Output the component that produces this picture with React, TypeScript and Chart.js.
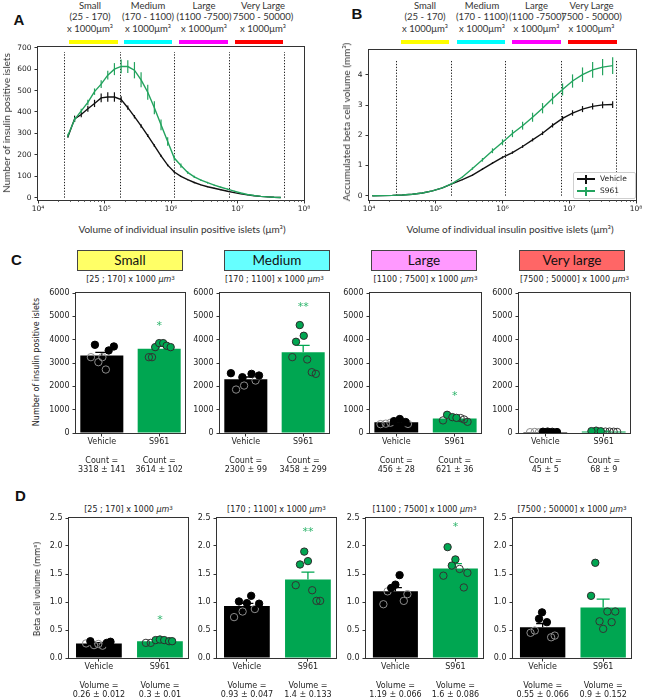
import React, { useEffect, useRef } from 'react';
import { Chart, registerables } from 'chart.js';

Chart.register(...registerables);

// ---------------- data ----------------
// Panel A: number of islets per volume bin
const volA = [2.82e4, 3.55e4, 4.47e4, 5.62e4, 7.08e4, 8.91e4, 1.12e5, 1.41e5, 1.78e5, 2.24e5, 2.82e5, 3.55e5, 4.47e5, 5.62e5, 7.08e5, 8.91e5, 1.12e6, 1.41e6, 1.78e6, 2.24e6, 2.82e6, 3.55e6, 4.47e6, 5.62e6, 7.08e6, 8.91e6, 1.12e7, 1.41e7, 1.78e7, 2.24e7, 2.82e7, 3.55e7, 4.47e7];
const vehicleA = [285, 368, 388, 415, 440, 466, 470, 470, 458, 420, 378, 335, 290, 243, 195, 152, 120, 100, 84, 71, 60, 51, 44, 37, 30, 24, 18, 13, 9, 6, 4, 2, 1];
const vehicleAErr = [5, 15, 12, 14, 17, 20, 22, 22, 15, 10, 8, 8, 7, 6, 5, 5, 4, 3, 3, 3, 2, 2, 2, 2, 2, 1, 1, 1, 1, 1, 1, 0, 0];
const s961A = [290, 365, 405, 445, 495, 530, 572, 600, 613, 612, 595, 550, 492, 420, 340, 262, 185, 150, 118, 97, 82, 70, 59, 49, 40, 31, 22, 15, 10, 6, 4, 2, 1];
const s961AErr = [8, 10, 10, 12, 15, 18, 20, 28, 32, 30, 38, 35, 35, 30, 25, 20, 12, 10, 6, 5, 4, 4, 3, 3, 3, 2, 2, 2, 1, 1, 1, 1, 0];

// Panel B: accumulated beta cell volume
const volB = [1.12e4, 1.58e4, 2.24e4, 3.16e4, 4.47e4, 6.31e4, 8.91e4, 1.26e5, 1.78e5, 2.51e5, 3.55e5, 5.01e5, 7.08e5, 1.0e6, 1.41e6, 2.0e6, 2.82e6, 3.98e6, 5.62e6, 7.94e6, 1.12e7, 1.58e7, 2.24e7, 3.16e7, 4.47e7];
const vehicleB = [0, 0.004, 0.01, 0.025, 0.05, 0.09, 0.16, 0.26, 0.40, 0.53, 0.68, 0.88, 1.08, 1.27, 1.43, 1.63, 1.85, 2.07, 2.33, 2.56, 2.74, 2.87, 2.96, 3.01, 3.02];
const vehicleBErr = [0, 0, 0, 0, 0, 0, 0.003, 0.005, 0.01, 0.015, 0.02, 0.025, 0.03, 0.035, 0.04, 0.045, 0.05, 0.06, 0.07, 0.08, 0.09, 0.1, 0.1, 0.11, 0.11];
const s961B = [0, 0.004, 0.01, 0.025, 0.05, 0.09, 0.16, 0.26, 0.41, 0.62, 0.90, 1.19, 1.49, 1.77, 2.06, 2.32, 2.60, 2.90, 3.22, 3.52, 3.80, 4.01, 4.17, 4.26, 4.31];
const s961BErr = [0, 0, 0, 0, 0, 0, 0.003, 0.005, 0.01, 0.02, 0.04, 0.06, 0.08, 0.10, 0.12, 0.13, 0.15, 0.17, 0.19, 0.20, 0.22, 0.24, 0.26, 0.27, 0.28];

const thresholds = [25000, 170000, 1100000, 7500000, 50000000];
const logTickValues = [1e4, 1e5, 1e6, 1e7, 1e8];
const logTickLabels = ['10⁴', '10⁵', '10⁶', '10⁷', '10⁸'];
const yTicksA = [0, 100, 200, 300, 400, 500, 600, 700];
const yTicksB = [0, 1, 2, 3, 4];
const seriesNames = ['Vehicle', 'S961'];

const headerNames = ['Small', 'Medium', 'Large', 'Very Large'];
const headerRanges = ['(25 - 170)', '(170 - 1100)', '(1100 -7500)', '7500 - 50000)'];
const headerUnit = 'x 1000μm³';
const headerColors = ['#ffff00', '#00ffff', '#ff00ff', '#ff0000'];

// Panels C / D
const classNames = ['Small', 'Medium', 'Large', 'Very large'];
const classColors = ['#ffff66', '#66ffff', '#ff99ff', '#ff6666'];
const rangeLabels = ['[25 ; 170]', '[170 ; 1100]', '[1100 ; 7500]', '[7500 ; 50000]'];
const groups = ['Vehicle', 'S961'];
const yTicksC = [0, 1000, 2000, 3000, 4000, 5000, 6000];
const yTicksD = [0, 0.5, 1.0, 1.5, 2.0, 2.5];

const countMeanVehicle = [3318, 2300, 456, 45];
const countSemVehicle = [141, 99, 28, 5];
const countMeanS961 = [3614, 3458, 621, 68];
const countSemS961 = [102, 299, 36, 9];

const countPtsVehicle = [
  [3780, 3537, 3709, 3250, 3250, 3036, 2720],
  [2563, 2391, 2535, 2463, 1862, 2033, 2248],
  [600, 470, 510, 380, 400, 440, 390],
  [55, 60, 50, 40, 35, 45, 30],
];
const countJitVehicle = [
  [-0.12, 0.12, 0.21, -0.19, 0.01, -0.06, 0.07],
  [-0.26, -0.06, 0.1, 0.23, -0.17, -0.03, 0.17],
  [0.06, 0.16, -0.04, -0.27, -0.18, -0.1, 0.2],
  [-0.04, 0.04, 0.12, 0.2, -0.26, -0.18, -0.11],
];
const countFilledVehicle = [
  [1, 1, 1, 0, 0, 0, 0],
  [1, 1, 1, 1, 0, 0, 0],
  [1, 1, 1, 0, 0, 0, 0],
  [1, 1, 1, 1, 0, 0, 0],
];
const countPtsS961 = [
  [3680, 3852, 3852, 3740, 3680, 3250, 3250],
  [4626, 4167, 3910, 3251, 3151, 2606, 2535],
  [780, 680, 650, 540, 640, 580, 480],
  [100, 80, 75, 60, 60, 55, 46],
];
const countJitS961 = [
  [-0.07, 0.0, 0.07, 0.13, 0.2, -0.18, -0.125],
  [-0.06, 0.01, -0.125, -0.19, 0.07, 0.15, 0.22],
  [-0.13, -0.04, 0.03, -0.2, 0.1, 0.16, 0.22],
  [-0.13, -0.21, -0.05, 0.03, 0.1, 0.17, 0.23],
];
const countFilledS961 = [
  [1, 1, 1, 1, 1, 0, 0],
  [1, 1, 1, 0, 0, 0, 0],
  [1, 1, 1, 0, 0, 0, 0],
  [1, 1, 1, 0, 0, 0, 0],
];
const countStars = ['*', '**', '*', ''];
const countStarY = [4600, 5400, 1560, 0];

const volMeanVehicle = [0.26, 0.93, 1.19, 0.55];
const volSemVehicle = [0.012, 0.047, 0.066, 0.066];
const volMeanS961 = [0.3, 1.4, 1.6, 0.9];
const volSemS961 = [0.01, 0.133, 0.086, 0.152];

const volPtsVehicle = [
  [0.30, 0.29, 0.27, 0.26, 0.23, 0.25, 0.22],
  [1.01, 1.11, 0.98, 0.97, 0.73, 0.83, 0.875],
  [1.48, 1.31, 1.25, 0.96, 1.19, 1.02, 1.14],
  [0.815, 0.70, 0.64, 0.45, 0.49, 0.37, 0.40],
];
const volJitVehicle = [
  [-0.14, 0.19, 0.13, -0.21, -0.08, -0.01, 0.06],
  [-0.13, 0.07, 0.0, 0.2, -0.21, -0.07, 0.13],
  [0.07, 0.0, -0.07, -0.2, -0.13, 0.14, 0.2],
  [-0.01, -0.06, 0.07, -0.2, -0.13, 0.14, 0.2],
];
const volFilledVehicle = [
  [1, 1, 1, 0, 0, 0, 0],
  [1, 1, 1, 1, 0, 0, 0],
  [1, 1, 1, 0, 0, 0, 0],
  [1, 1, 1, 0, 0, 0, 0],
];
const volPtsS961 = [
  [0.27, 0.27, 0.32, 0.33, 0.32, 0.30, 0.30],
  [1.90, 1.73, 1.67, 1.30, 1.21, 1.02, 1.02],
  [1.98, 1.76, 1.65, 1.47, 1.59, 1.52, 1.26],
  [1.70, 1.11, 0.655, 0.83, 0.83, 0.64, 0.52],
];
const volJitS961 = [
  [-0.23, -0.15, -0.07, 0.0, 0.07, 0.15, 0.2],
  [-0.06, 0.0, -0.13, -0.2, 0.07, 0.14, 0.2],
  [-0.13, 0.0, -0.06, -0.2, 0.07, 0.2, 0.14],
  [-0.13, -0.2, -0.06, 0.07, 0.2, 0.14, 0.0],
];
const volFilledS961 = [
  [0, 0, 1, 1, 1, 1, 1],
  [1, 1, 1, 0, 0, 0, 0],
  [1, 1, 1, 0, 0, 0, 0],
  [1, 1, 0, 0, 0, 0, 0],
];
const volStars = ['*', '**', '*', ''];
const volStarY = [0.68, 2.25, 2.33, 0];

// ---------------- style ----------------
const GREEN_LINE = '#23a35e';
const GREEN_BAR = '#00a651';
const GREEN_STAR = '#2fb56c';
const MPL_FONT = '"DejaVu Sans", Verdana, sans-serif';
const ANNOT_FONT = 'Lato, "Open Sans", sans-serif';
const BOLD_FONT = '"Liberation Sans", Arial, sans-serif';

const A_RECT = [38, 47, 304, 200];
const B_RECT = [369, 50, 636, 200];
const C_RECTS = [[76, 293, 185, 433], [220, 293, 329, 433], [370, 293, 481, 433], [519, 293, 630, 433]];
const D_RECTS = [[69, 518, 188, 658], [217, 518, 336, 658], [366, 518, 483, 658], [513, 518, 631, 658]];

// ---------------- plugins ----------------
const framePlugin = {
  id: 'frame',
  afterDraw(chart: any) {
    const { ctx, chartArea: a } = chart;
    ctx.save();
    ctx.strokeStyle = '#333';
    ctx.lineWidth = 1;
    ctx.strokeRect(a.left - 0.5, a.top - 0.5, a.right - a.left + 1, a.bottom - a.top + 1);
    ctx.restore();
  },
};

const lineErrorPlugin = {
  id: 'lineErr',
  afterDatasetDraw(chart: any, args: any) {
    const ds = chart.data.datasets[args.index];
    const errs = ds.errors;
    if (!errs) return;
    const { ctx } = chart;
    const xs = chart.scales.x, ys = chart.scales.y;
    ctx.save();
    ctx.strokeStyle = ds.borderColor;
    ctx.lineWidth = 1.2;
    ds.data.forEach((p: any, i: number) => {
      const e = errs[i];
      if (!e) return;
      const x = xs.getPixelForValue(p.x);
      ctx.beginPath();
      ctx.moveTo(x, ys.getPixelForValue(p.y - e));
      ctx.lineTo(x, ys.getPixelForValue(p.y + e));
      ctx.stroke();
    });
    ctx.restore();
  },
};

const thresholdPlugin = (top: number) => ({
  id: 'thresholds',
  beforeDatasetsDraw(chart: any) {
    const { ctx } = chart;
    const xs = chart.scales.x, ys = chart.scales.y;
    ctx.save();
    ctx.strokeStyle = '#222';
    ctx.lineWidth = 1;
    ctx.setLineDash([1.3, 1.6]);
    thresholds.forEach((t) => {
      const x = Math.round(xs.getPixelForValue(t)) + 0.5;
      ctx.beginPath();
      ctx.moveTo(x, ys.getPixelForValue(0));
      ctx.lineTo(x, ys.getPixelForValue(top));
      ctx.stroke();
    });
    ctx.restore();
  },
});

const minorTickPlugin = {
  id: 'minorTicks',
  afterDraw(chart: any) {
    const { ctx, chartArea: a } = chart;
    const xs = chart.scales.x;
    ctx.save();
    ctx.strokeStyle = '#444';
    ctx.lineWidth = 0.8;
    for (let d = 4; d < 8; d++) {
      for (let m = 2; m < 10; m++) {
        const x = Math.round(xs.getPixelForValue(m * Math.pow(10, d))) + 0.5;
        ctx.beginPath();
        ctx.moveTo(x, a.bottom);
        ctx.lineTo(x, a.bottom + 2);
        ctx.stroke();
      }
    }
    ctx.restore();
  },
};

const barErrorPlugin = (means: number[], sems: number[], colors: string[]) => ({
  id: 'barErr',
  afterDatasetDraw(chart: any, args: any) {
    if (args.index !== 0) return;
    const { ctx } = chart;
    const xs = chart.scales.x, ys = chart.scales.y;
    ctx.save();
    ctx.lineWidth = 1.3;
    means.forEach((m, k) => {
      const x = xs.getPixelForValue(k);
      const y0 = ys.getPixelForValue(m);
      const y1 = ys.getPixelForValue(m + sems[k]);
      ctx.strokeStyle = colors[k];
      ctx.beginPath();
      ctx.moveTo(x, y0);
      ctx.lineTo(x, y1);
      ctx.moveTo(x - 6.5, y1);
      ctx.lineTo(x + 6.5, y1);
      ctx.stroke();
    });
    ctx.restore();
  },
});

const starPlugin = (text: string, yVal: number) => ({
  id: 'star',
  afterDraw(chart: any) {
    if (!text) return;
    const { ctx } = chart;
    const x = chart.scales.x.getPixelForValue(1);
    const y = chart.scales.y.getPixelForValue(yVal);
    ctx.save();
    ctx.fillStyle = GREEN_STAR;
    ctx.font = `11px ${MPL_FONT}`;
    ctx.textAlign = 'center';
    ctx.textBaseline = 'middle';
    ctx.fillText(text, x, y);
    ctx.restore();
  },
});

// ---------------- config builders ----------------
function baseOptions(d: any) {
  return {
    responsive: false,
    maintainAspectRatio: false,
    animation: false,
    devicePixelRatio: 1,
    events: [],
    layout: { padding: { left: 0, top: d.pt, right: d.pr, bottom: 0 } },
    plugins: { legend: { display: false }, tooltip: { enabled: false }, title: { display: false } },
  };
}

function tickGrid() {
  return { drawOnChartArea: false, drawTicks: true, tickLength: 3.5, tickColor: '#333', tickWidth: 1, offset: false };
}

function yScale(d: any, min: number, max: number, ticks: number[], fmt: (v: number) => string, size: number) {
  return {
    type: 'linear',
    min,
    max,
    offset: false,
    afterBuildTicks: (s: any) => { s.ticks = ticks.map((v) => ({ value: v })); },
    afterFit: (s: any) => { s.width = d.yW; },
    ticks: { autoSkip: false, padding: 3, color: '#222', font: { family: MPL_FONT, size }, callback: (v: any) => fmt(v) },
    grid: tickGrid(),
    border: { display: false },
  };
}

function lineConfig(panel: string) {
  return (d: any) => {
    const isA = panel === 'A';
    const vol = isA ? volA : volB;
    const veh = isA ? vehicleA : vehicleB;
    const vehErr = isA ? vehicleAErr : vehicleBErr;
    const s = isA ? s961A : s961B;
    const sErr = isA ? s961AErr : s961BErr;
    const yMin = isA ? -10.7 : -0.1425;
    const yMax = isA ? 703.3 : 4.828;
    const vTop = isA ? 680 : 4.5;
    return {
      type: 'line',
      data: {
        datasets: [
          { label: seriesNames[0], data: vol.map((x, i) => ({ x, y: veh[i] })), errors: vehErr, borderColor: '#111', borderWidth: 1.4, pointRadius: 0, tension: 0, order: 2 },
          { label: seriesNames[1], data: vol.map((x, i) => ({ x, y: s[i] })), errors: sErr, borderColor: GREEN_LINE, borderWidth: 1.4, pointRadius: 0, tension: 0, order: 1 },
        ],
      },
      options: {
        ...baseOptions(d),
        scales: {
          x: {
            type: 'logarithmic',
            min: 1e4,
            max: 1e8,
            offset: false,
            afterBuildTicks: (sc: any) => { sc.ticks = logTickValues.map((v) => ({ value: v })); },
            afterFit: (sc: any) => { sc.height = d.xH; },
            ticks: {
              autoSkip: false, minRotation: 0, maxRotation: 0, padding: 1.5, color: '#222',
              font: { family: MPL_FONT, size: 7.5 },
              callback: (v: any) => { const k = logTickValues.indexOf(v); return k >= 0 ? logTickLabels[k] : ''; },
            },
            grid: tickGrid(),
            border: { display: false },
          },
          y: yScale(d, yMin, yMax, isA ? yTicksA : yTicksB, (v) => String(v), 7.5),
        },
      },
      plugins: [thresholdPlugin(vTop), lineErrorPlugin, framePlugin, minorTickPlugin],
    };
  };
}

function barConfig(kind: string, i: number) {
  return (d: any) => {
    const isCount = kind === 'count';
    const means = isCount ? [countMeanVehicle[i], countMeanS961[i]] : [volMeanVehicle[i], volMeanS961[i]];
    const sems = isCount ? [countSemVehicle[i], countSemS961[i]] : [volSemVehicle[i], volSemS961[i]];
    const vals = isCount ? [countPtsVehicle[i], countPtsS961[i]] : [volPtsVehicle[i], volPtsS961[i]];
    const jit = isCount ? [countJitVehicle[i], countJitS961[i]] : [volJitVehicle[i], volJitS961[i]];
    const filled = isCount ? [countFilledVehicle[i], countFilledS961[i]] : [volFilledVehicle[i], volFilledS961[i]];
    const star = isCount ? countStars[i] : volStars[i];
    const starY = isCount ? countStarY[i] : volStarY[i];
    const word = isCount ? 'Count =' : 'Volume =';
    const xLabels = groups.map((g, k) => [g, '', word, `${means[k]} ± ${sems[k]}`]);
    const xr = isCount ? [-0.45, 1.45] : [-0.49, 1.46];

    const pointSets: any[] = [];
    [0, 1].forEach((k) => {
      const pts = (f: number) =>
        vals[k].map((v, j) => ({ x: k + jit[k][j], y: v, f: filled[k][j] })).filter((p) => p.f === f);
      pointSets.push({
        type: 'scatter', data: pts(1), order: 1, pointRadius: 3.7, borderWidth: 1,
        backgroundColor: k === 0 ? '#000' : GREEN_BAR, borderColor: k === 0 ? '#000' : '#2b2b2b',
      });
      pointSets.push({
        type: 'scatter', data: pts(0), order: 1, pointRadius: 3.7, borderWidth: 1,
        backgroundColor: 'rgba(0,0,0,0)', borderColor: k === 0 ? '#8c8c8c' : '#333',
      });
    });

    return {
      type: 'bar',
      data: {
        datasets: [
          {
            type: 'bar', order: 3,
            data: means.map((m, k) => ({ x: k, y: m })),
            backgroundColor: ['#000', GREEN_BAR], borderWidth: 0,
            barPercentage: 0.75, categoryPercentage: 1,
          },
          ...pointSets,
        ],
      },
      options: {
        ...baseOptions(d),
        scales: {
          x: {
            type: 'linear', min: xr[0], max: xr[1], offset: false,
            afterBuildTicks: (s: any) => { s.ticks = [0, 1].map((v) => ({ value: v })); },
            afterFit: (s: any) => { s.height = d.xH; },
            ticks: {
              autoSkip: false, minRotation: 0, maxRotation: 0, padding: 1, color: '#222',
              font: { family: MPL_FONT, size: 8, lineHeight: 1.15 },
              callback: (v: any) => xLabels[v],
            },
            grid: tickGrid(),
            border: { display: false },
          },
          y: isCount
            ? yScale(d, 0, 6000, yTicksC, (v) => String(v), 8)
            : yScale(d, 0, 2.5, yTicksD, (v) => Number(v).toFixed(1), 8),
        },
      },
      plugins: [barErrorPlugin(means, sems, ['#000', GREEN_BAR]), framePlugin, starPlugin(star, starY)],
    };
  };
}

// ---------------- components ----------------
function ChartCanvas({ rect, yW, xH, pt, pr, build }: any) {
  const ref = useRef<HTMLCanvasElement | null>(null);
  const w = rect[2] - rect[0] + yW + pr;
  const h = rect[3] - rect[1] + pt + xH;
  useEffect(() => {
    const chart = new Chart(ref.current as HTMLCanvasElement, build({ yW, xH, pt, pr }));
    return () => chart.destroy();
  }, []);
  return (
    <canvas
      ref={ref}
      width={w}
      height={h}
      style={{ position: 'absolute', left: rect[0] - yW, top: rect[1] - pt, width: w, height: h }}
    />
  );
}

function Txt({ x, y, size, font = MPL_FONT, weight = 'normal', color = '#222', rotate = 0, align = 'center', children }: any) {
  const tx = align === 'left' ? '0' : '-50%';
  return (
    <div
      style={{
        position: 'absolute', left: x, top: y,
        transform: `translate(${tx}, -50%)${rotate ? ` rotate(${rotate}deg)` : ''}`,
        whiteSpace: 'nowrap', lineHeight: 1, fontSize: size, fontFamily: font, fontWeight: weight, color,
      }}
    >
      {children}
    </div>
  );
}

function Header({ centers, bars }: any) {
  return (
    <>
      {headerNames.map((n, k) => (
        <React.Fragment key={k}>
          <Txt x={centers[k]} y={5.5} size={9.5} font={ANNOT_FONT} color="#333">{n}</Txt>
          <Txt x={centers[k]} y={17} size={9.5} font={ANNOT_FONT} color="#333">{headerRanges[k]}</Txt>
          <Txt x={centers[k]} y={28.5} size={9.5} font={ANNOT_FONT} color="#333">{headerUnit}</Txt>
          <div style={{ position: 'absolute', left: bars[k][0], top: 40, width: bars[k][1] - bars[k][0], height: 4, background: headerColors[k] }} />
        </React.Fragment>
      ))}
    </>
  );
}

function RangeTitle({ x, y, k }: any) {
  return (
    <Txt x={x} y={y} size={8}>
      {rangeLabels[k]} x 1000 <i>μm</i><sup style={{ fontSize: '70%', verticalAlign: '45%' }}>3</sup>
    </Txt>
  );
}

export default function App() {
  const legendColors = ['#111', GREEN_LINE];
  return (
    <div style={{ position: 'absolute', left: 0, top: 0, width: 646, height: 700, background: '#fff', overflow: 'hidden' }}>
      {/* Panel letters */}
      <Txt x={19} y={18.5} size={15} font={BOLD_FONT} weight="bold" color="#111">A</Txt>
      <Txt x={357} y={13} size={15} font={BOLD_FONT} weight="bold" color="#111">B</Txt>
      <Txt x={16.5} y={258.5} size={15} font={BOLD_FONT} weight="bold" color="#111">C</Txt>
      <Txt x={20.5} y={495} size={15} font={BOLD_FONT} weight="bold" color="#111">D</Txt>

      {/* Panel A */}
      <Header centers={[90, 148, 204, 263]} bars={[[69, 118], [124, 172], [179, 228], [235, 283]]} />
      <ChartCanvas rect={A_RECT} yW={30} xH={20} pt={10} pr={12} build={lineConfig('A')} />
      <Txt x={6} y={123} size={10} font={ANNOT_FONT} color="#333" rotate={-90}>Number of insulin positive islets</Txt>
      <Txt x={182} y={229} size={10} font={ANNOT_FONT} color="#333">Volume of individual insulin positive islets (μm³)</Txt>

      {/* Panel B */}
      <Header centers={[425, 482, 536.5, 591.5]} bars={[[401, 449], [457, 505], [512, 561], [568, 617]]} />
      <ChartCanvas rect={B_RECT} yW={30} xH={20} pt={10} pr={8} build={lineConfig('B')} />
      <Txt x={345.5} y={122} size={10} font={ANNOT_FONT} color="#333" rotate={-90}>Accumulated beta cell volume (mm³)</Txt>
      <Txt x={510} y={229} size={10} font={ANNOT_FONT} color="#333">Volume of individual insulin positive islets (μm³)</Txt>
      <div style={{ position: 'absolute', left: 573, top: 172, width: 61, height: 25, border: '1px solid #cfcfcf', borderRadius: 2, background: 'rgba(255,255,255,0.85)' }} />
      {seriesNames.map((n, k) => (
        <React.Fragment key={n}>
          <div style={{ position: 'absolute', left: 577, top: 179 + k * 12 - 0.7, width: 18, height: 1.4, background: legendColors[k] }} />
          <div style={{ position: 'absolute', left: 585.4, top: 179 + k * 12 - 4.5, width: 1.2, height: 9, background: legendColors[k] }} />
          <Txt x={600} y={179 + k * 12} size={7.5} align="left">{n}</Txt>
        </React.Fragment>
      ))}

      {/* Panel C */}
      {classNames.map((n, k) => (
        <div
          key={n}
          style={{
            position: 'absolute', left: [77, 224, 371, 519][k], top: 250, width: 104, height: 19,
            background: classColors[k], border: '1px solid #444', display: 'flex', alignItems: 'center', justifyContent: 'center',
            fontFamily: ANNOT_FONT, fontSize: 13.5, color: '#111', lineHeight: 1,
          }}
        >
          {n}
        </div>
      ))}
      {C_RECTS.map((r, k) => (
        <React.Fragment key={'c' + k}>
          <RangeTitle x={(r[0] + r[2]) / 2} y={279.5} k={k} />
          <ChartCanvas rect={r} yW={30} xH={45} pt={8} pr={8} build={barConfig('count', k)} />
        </React.Fragment>
      ))}
      <Txt x={37} y={362} size={8} rotate={-90}>Number of insulin positive islets</Txt>

      {/* Panel D */}
      {D_RECTS.map((r, k) => (
        <React.Fragment key={'d' + k}>
          <RangeTitle x={(r[0] + r[2]) / 2} y={510} k={k} />
          <ChartCanvas rect={r} yW={30} xH={45} pt={8} pr={8} build={barConfig('volume', k)} />
        </React.Fragment>
      ))}
      <Txt x={38} y={589} size={8} rotate={-90}>Beta cell volume (mm³)</Txt>
    </div>
  );
}
